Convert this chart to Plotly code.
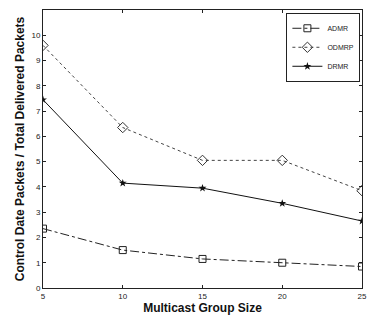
import plotly.graph_objects as go

group_size = [5, 10, 15, 20, 25]
admr = [2.35, 1.5, 1.15, 1.0, 0.85]
odmrp = [9.6, 6.35, 5.05, 5.05, 3.85]
drmr = [7.45, 4.15, 3.95, 3.35, 2.65]

fig = go.Figure()
fig.add_trace(go.Scatter(x=group_size, y=admr, name="ADMR", mode="lines+markers",
                         line=dict(color="#222", width=1, dash="dashdot"),
                         marker=dict(symbol="square-open", size=7, color="#222", line=dict(width=1))))
fig.add_trace(go.Scatter(x=group_size, y=odmrp, name="ODMRP", mode="lines+markers",
                         line=dict(color="#444", width=1, dash="dot"),
                         marker=dict(symbol="diamond-open", size=8, color="#333", line=dict(width=1))))
fig.add_trace(go.Scatter(x=group_size, y=drmr, name="DRMR", mode="lines+markers",
                         line=dict(color="#111", width=1),
                         marker=dict(symbol="star", size=6, color="#111")))

axis_common = dict(showgrid=False, zeroline=False, showline=True, linecolor="#222", linewidth=1,
                   mirror="ticks", ticks="inside", ticklen=3, tickcolor="#222",
                   tickfont=dict(family="Arial", size=8, color="#222"))
fig.update_xaxes(range=[5, 25], tickvals=[5, 10, 15, 20, 25],
                 title=dict(text="<b>Multicast Group Size</b>", font=dict(family="Arial", size=12, color="#111"), standoff=3),
                 **axis_common)
fig.update_yaxes(range=[0, 11], tickvals=list(range(0, 11)),
                 title=dict(text="<b>Control Date Packets / Total Delivered Packets</b>", font=dict(family="Arial", size=12, color="#111"), standoff=4),
                 **axis_common)
fig.update_layout(width=372, height=320, margin=dict(l=43, r=5, t=10, b=32),
                  plot_bgcolor="white", paper_bgcolor="white",
                  legend=dict(x=0.995, y=0.99, xanchor="right", yanchor="top",
                              bordercolor="#222", borderwidth=1, bgcolor="white",
                              font=dict(family="Arial", size=7, color="#222"),
                              itemwidth=30, tracegroupgap=0))
fig.write_html("out.html")
